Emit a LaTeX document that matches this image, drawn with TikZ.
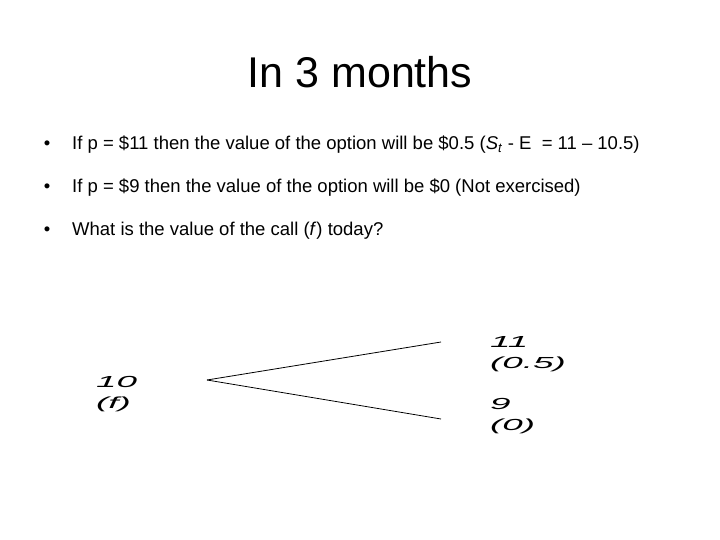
\documentclass[tikz,border=0pt]{standalone}
\usepackage{fontspec}
\setmainfont{Liberation Sans}
\usepackage{graphicx}

\tikzset{
  bulletline/.style={anchor=base west,inner sep=0pt,font=\fontsize{18.5}{22}\selectfont},
  treelabel/.style={anchor=north west,inner sep=0pt,align=left,font=\fontsize{16}{21}\selectfont\itshape},
}
\newcommand{\wide}[1]{\scalebox{2.3}[1]{#1}}

\begin{document}
\begin{tikzpicture}[x=1pt,y=-1pt]
\useasboundingbox (0,0) rectangle (720,540);
\pgfmathsetmacro{\textx}{72}
\pgfmathsetmacro{\dotx}{47}
\node[anchor=base,inner sep=0pt,font=\fontsize{43}{50}\selectfont] (title) at (360,88) {In 3 months};
\node[bulletline] (b1) at (\textx,150) {If p = \$11 then the value of the option will be \$0.5 (\textit{S}\textsubscript{\textit{t}} - E\ \ = 11 -- 10.5)};
\node[bulletline] (b2) at (\textx,193) {If p = \$9 then the value of the option will be \$0 (Not exercised)};
\node[bulletline] (b3) at (\textx,236) {What is the value of the call (\textit{f}) today?};
\foreach \y in {150,193,236}
  \node[bulletline,anchor=base] at (\dotx,\y) {\textbullet};
% tree
\node[treelabel] (root) at (96,376) {\wide{10}\\\wide{(f)}};
\node[treelabel] (up) at (490,336) {\wide{11}\\\wide{(0.5)}};
\node[treelabel] (down) at (490,398) {\wide{9}\\\wide{(0)}};
\coordinate (rootr) at (207,380);
\coordinate (upl) at (441,342);
\coordinate (downl) at (441,419);
\draw[line width=0.8pt] (rootr) -- (upl);
\draw[line width=0.8pt] (rootr) -- (downl);
\end{tikzpicture}
\end{document}
